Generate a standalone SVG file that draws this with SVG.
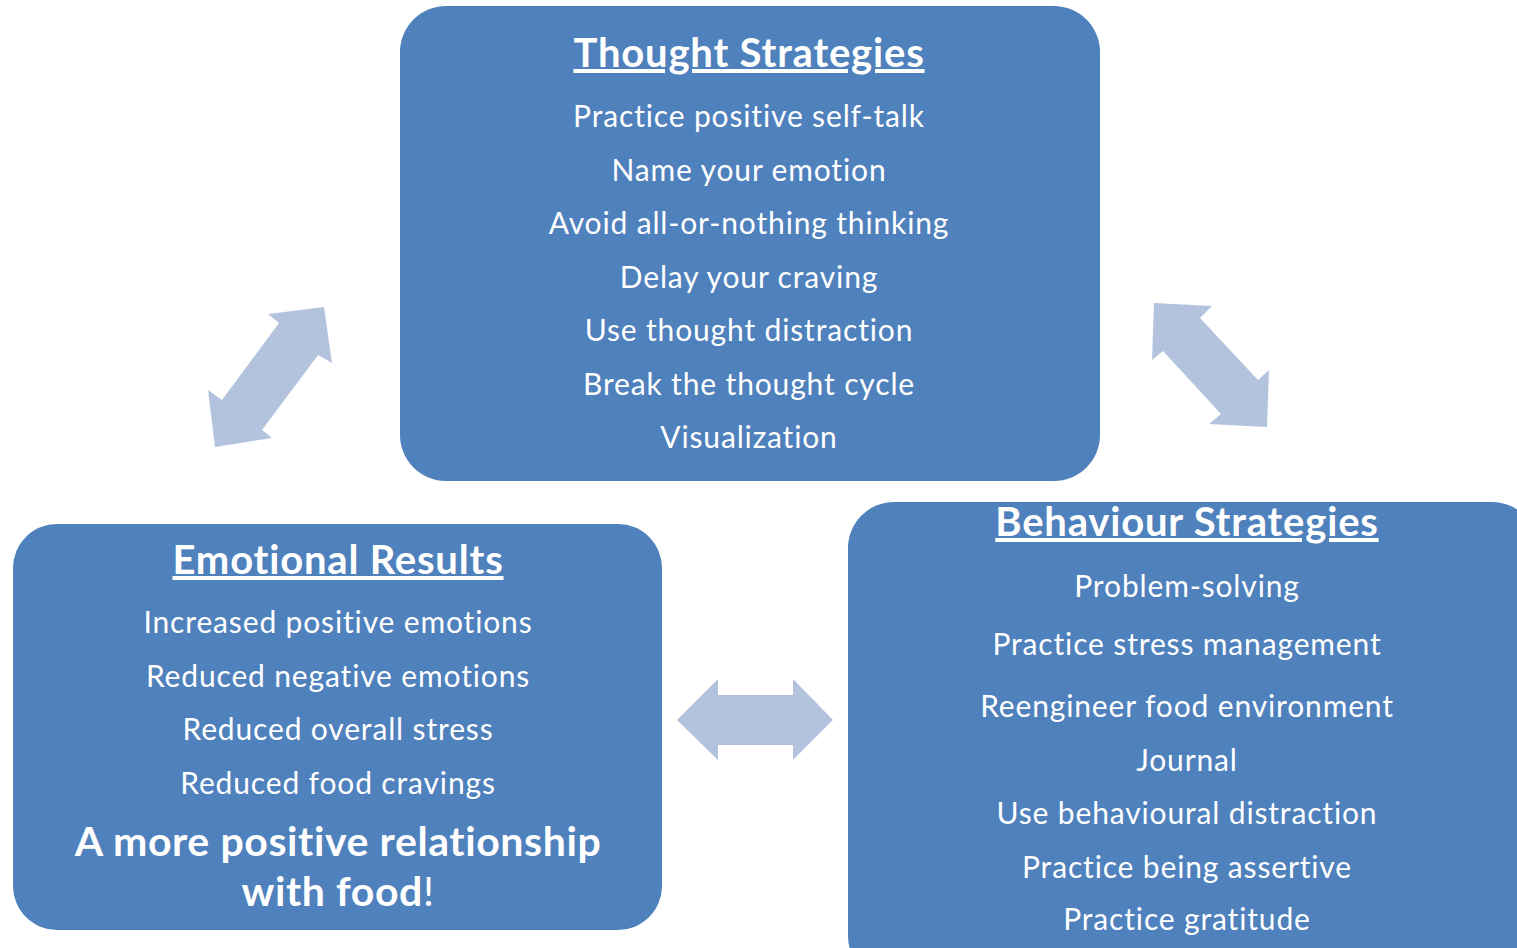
<svg xmlns="http://www.w3.org/2000/svg" width="1517" height="948" viewBox="0 0 1517 948">
<style>
.box{fill:#4F81BD}
.arr{fill:#B3C3DD}
text{font-family:Lato,"Open Sans","Liberation Sans",sans-serif;fill:#fff;text-anchor:middle}
.t{font-size:30px;letter-spacing:0.85px}
.h{font-size:40px;font-weight:bold;text-decoration:underline;letter-spacing:0.8px}
.b{font-size:41px;font-weight:bold;letter-spacing:0.6px}
</style>
<rect width="1517" height="948" fill="#fff"/>
<g id="thought">
<rect class="box" x="400" y="6" width="700" height="475" rx="46"/>
<text class="h" x="749" y="67">Thought Strategies</text>
<text class="t" x="749" y="127">Practice positive self-talk</text>
<text class="t" x="749" y="181">Name your emotion</text>
<text class="t" x="749" y="234">Avoid all-or-nothing thinking</text>
<text class="t" x="749" y="288">Delay your craving</text>
<text class="t" x="749" y="341">Use thought distraction</text>
<text class="t" x="749" y="395">Break the thought cycle</text>
<text class="t" x="749" y="448">Visualization</text>
</g>
<g id="emotional">
<rect class="box" x="13" y="524" width="649" height="406" rx="44"/>
<text class="h" x="338" y="574">Emotional Results</text>
<text class="t" x="338" y="633">Increased positive emotions</text>
<text class="t" x="338" y="687">Reduced negative emotions</text>
<text class="t" x="338" y="740">Reduced overall stress</text>
<text class="t" x="338" y="794">Reduced food cravings</text>
<text class="b" x="338" y="856">A more positive relationship</text>
<text class="b" x="338" y="906">with food<tspan font-weight="normal">!</tspan></text>
</g>
<g id="behaviour">
<rect class="box" x="848" y="502" width="690" height="480" rx="46"/>
<text class="h" x="1187" y="536">Behaviour Strategies</text>
<text class="t" x="1187" y="597">Problem-solving</text>
<text class="t" x="1187" y="655">Practice stress management</text>
<text class="t" x="1187" y="717">Reengineer food environment</text>
<text class="t" x="1187" y="771">Journal</text>
<text class="t" x="1187" y="824">Use behavioural distraction</text>
<text class="t" x="1187" y="878">Practice being assertive</text>
<text class="t" x="1187" y="930">Practice gratitude</text>
</g>
<g id="connectors">
<polygon class="arr" points="324,307 332,363 318,355 262,430 272,438 215,447 208,390 222,400 279,323 268,314"/>
<polygon class="arr" points="1154,303 1212,306 1200,318 1258,380 1269,370 1267,427 1209,424 1221,414 1163,351 1152,360"/>
<polygon class="arr" points="677,720 718,679 718,695 793,695 793,679 833,720 793,760 793,745 718,745 718,760"/>
</g>
</svg>
